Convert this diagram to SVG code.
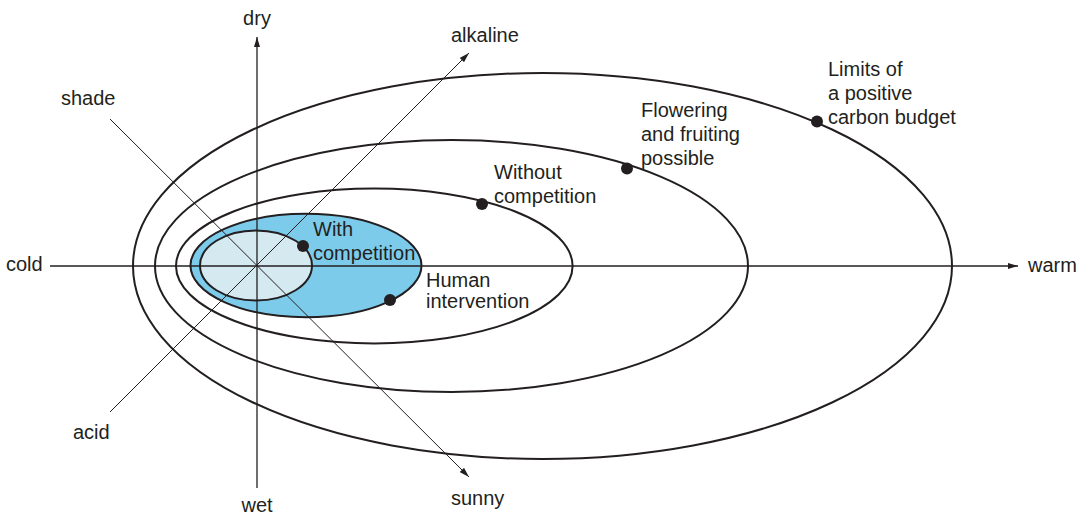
<svg xmlns="http://www.w3.org/2000/svg" width="1089" height="514" viewBox="0 0 1089 514">
  <defs>
    <marker id="arrow" viewBox="0 0 10 6" refX="10" refY="3" markerWidth="10" markerHeight="6" markerUnits="userSpaceOnUse" orient="auto">
      <path d="M0,0 L10,3 L0,6 Z" fill="#231f20"/>
    </marker>
    <style>
      .lbl { font-family: "Liberation Sans", Arial, sans-serif; font-size: 20px; fill: #231f20; }
      .ring { fill: none; stroke: #231f20; stroke-width: 2; }
      .axis { stroke: #231f20; stroke-width: 1.3; fill: none; }
      .diag { stroke: #231f20; stroke-width: 1; fill: none; }
      .dot { fill: #231f20; }
    </style>
  </defs>
  <rect width="1089" height="514" fill="#ffffff"/>

  <!-- shaded niche regions -->
  <g id="niche-human">
    <ellipse cx="306" cy="265.5" rx="115.5" ry="51.7" fill="#7dcbeb" stroke="#231f20" stroke-width="2"/>
  </g>
  <g id="niche-competition">
    <ellipse cx="256" cy="265.5" rx="56" ry="35" fill="#d5e9f1" stroke="#231f20" stroke-width="2"/>
  </g>

  <!-- outer niche limits -->
  <g id="niche-without-competition">
    <ellipse class="ring" cx="374.3" cy="266" rx="198.3" ry="77.5"/>
  </g>
  <g id="niche-flowering">
    <ellipse class="ring" cx="451.5" cy="266" rx="296.5" ry="126"/>
  </g>
  <g id="niche-carbon">
    <ellipse class="ring" cx="542.5" cy="266" rx="409.5" ry="193"/>
  </g>

  <!-- environmental gradient axes -->
  <g id="connectors">
    <line class="axis" x1="50" y1="266" x2="1018" y2="266" marker-end="url(#arrow)"/>
    <line class="axis" x1="257" y1="488" x2="257" y2="37" marker-end="url(#arrow)"/>
    <line class="diag" x1="110" y1="119" x2="469" y2="477" marker-end="url(#arrow)"/>
    <line class="diag" x1="110" y1="412" x2="469" y2="53" marker-end="url(#arrow)"/>
  </g>

  <!-- markers on niche boundaries -->
  <g id="points">
    <circle class="dot" cx="303" cy="246" r="6"/>
    <circle class="dot" cx="390" cy="300" r="6"/>
    <circle class="dot" cx="482" cy="204" r="6"/>
    <circle class="dot" cx="627" cy="168.5" r="6"/>
    <circle class="dot" cx="817" cy="121.5" r="6"/>
  </g>

  <!-- axis labels -->
  <g id="axis-labels">
    <text class="lbl" x="257" y="25" text-anchor="middle">dry</text>
    <text class="lbl" x="257" y="512" text-anchor="middle">wet</text>
    <text class="lbl" x="6" y="271">cold</text>
    <text class="lbl" x="1028" y="272">warm</text>
    <text class="lbl" x="61" y="105">shade</text>
    <text class="lbl" x="451" y="505">sunny</text>
    <text class="lbl" x="451" y="42">alkaline</text>
    <text class="lbl" x="73" y="439">acid</text>
  </g>

  <!-- niche labels -->
  <g id="niche-labels">
    <text class="lbl" x="313" y="236">With</text>
    <text class="lbl" x="313" y="259.5">competition</text>
    <text class="lbl" x="426" y="287">Human</text>
    <text class="lbl" x="426" y="307.5">intervention</text>
    <text class="lbl" x="494" y="179">Without</text>
    <text class="lbl" x="494" y="203">competition</text>
    <text class="lbl" x="641" y="117">Flowering</text>
    <text class="lbl" x="641" y="141">and fruiting</text>
    <text class="lbl" x="641" y="165">possible</text>
    <text class="lbl" x="828" y="76">Limits of</text>
    <text class="lbl" x="828" y="100">a positive</text>
    <text class="lbl" x="828" y="124">carbon budget</text>
  </g>
</svg>
